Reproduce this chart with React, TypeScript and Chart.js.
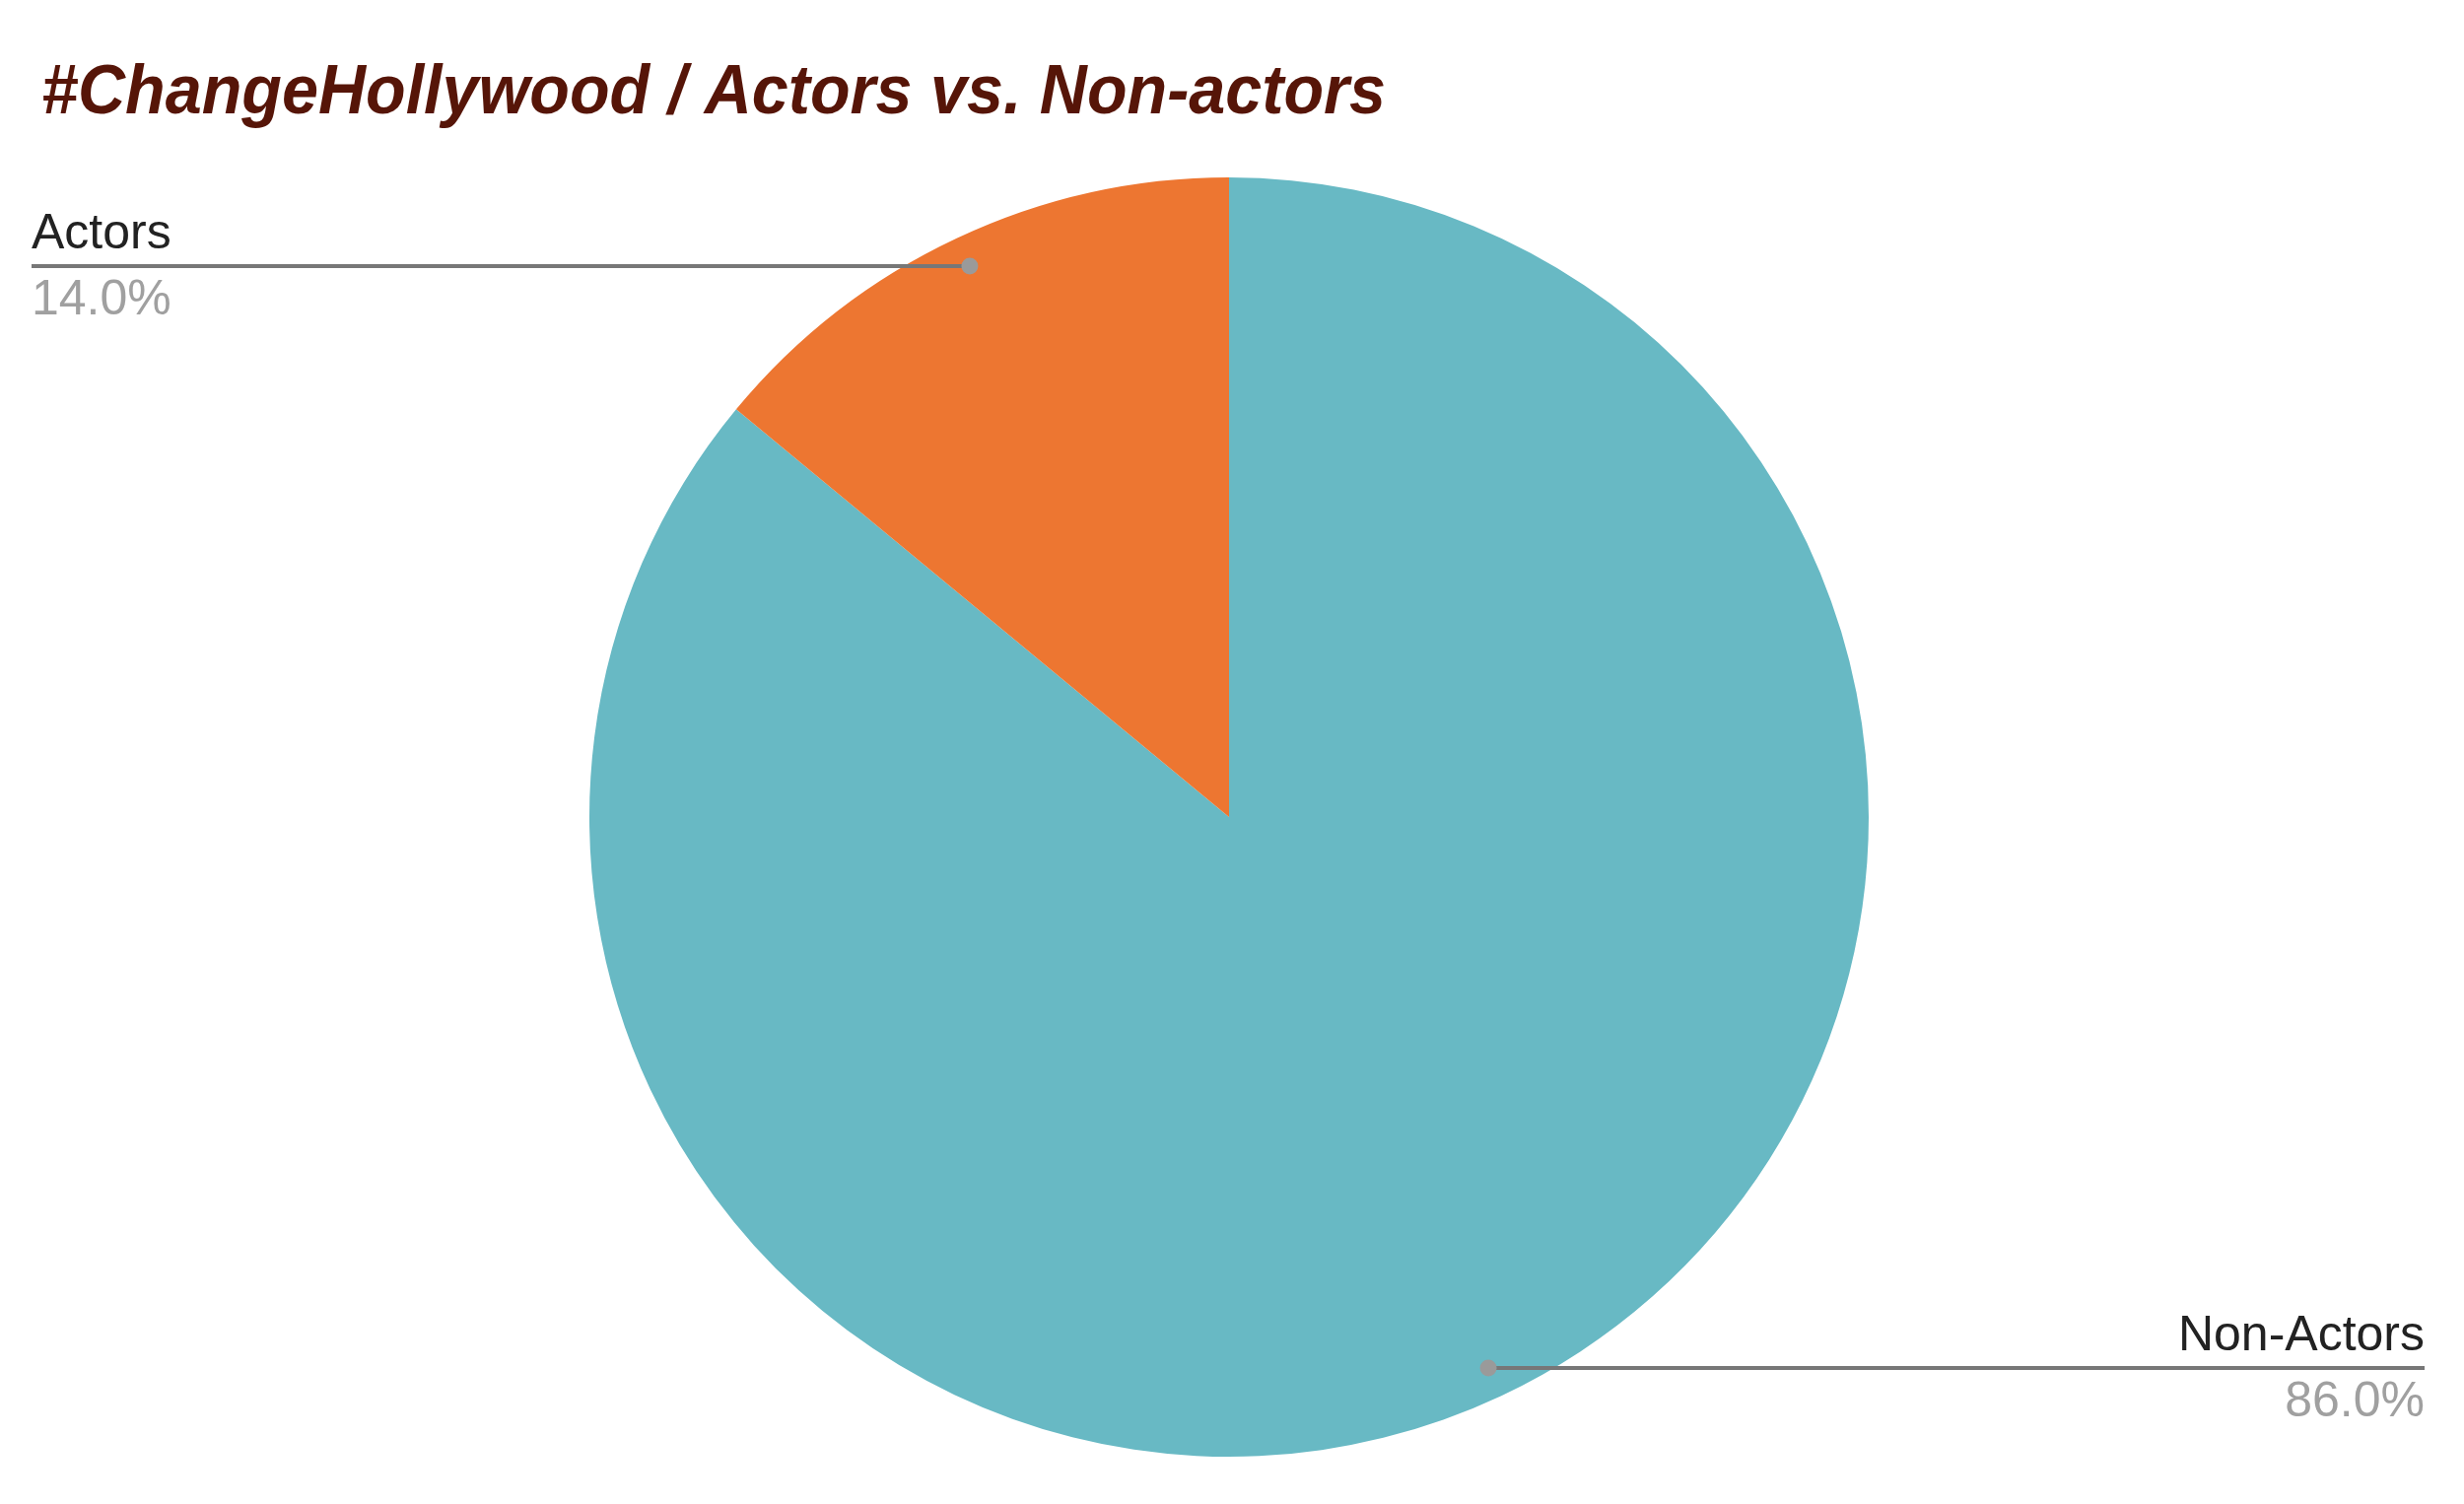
import React, { useEffect, useRef } from "react";
import { Chart, registerables } from "chart.js";

Chart.register(...registerables);

const TITLE = "#ChangeHollywood / Actors vs. Non-actors";
const categories = ["Non-Actors", "Actors"];
const values = [86, 14];
const colors = ["#68B9C4", "#ED7631"];

const W = 2500;
const H = 1526;

const overlayPlugin = {
  id: "overlay",
  afterDraw(chart: any) {
    const ctx = chart.ctx as CanvasRenderingContext2D;
    // Title
    ctx.save();
    ctx.fillStyle = "#561508";
    ctx.font = "italic bold 70px 'Liberation Sans', Arial, sans-serif";
    ctx.textBaseline = "alphabetic";
    const tw = ctx.measureText(TITLE).width;
    const target = 1364;
    ctx.translate(42, 115);
    ctx.scale(target / tw, 1);
    ctx.fillText(TITLE, 0, 0);
    ctx.restore();

    const meta = chart.getDatasetMeta(0);
    const data = chart.data.datasets[0].data as number[];
    const total = data.reduce((a, b) => a + b, 0);
    meta.data.forEach((arc: any, i: number) => {
      const p = arc.getProps(["startAngle", "endAngle", "outerRadius", "x", "y"], true);
      const mid = (p.startAngle + p.endAngle) / 2;
      const dx = Math.cos(mid) * p.outerRadius * 0.952;
      const dy = Math.sin(mid) * p.outerRadius * 0.952;
      const px = p.x + dx;
      const py = p.y + dy;
      const left = Math.cos(mid) < 0;
      const endX = left ? 32 : 2460;
      ctx.save();
      ctx.strokeStyle = "#777777";
      ctx.lineWidth = 4;
      ctx.beginPath();
      ctx.moveTo(px, py);
      ctx.lineTo(endX, py);
      ctx.stroke();
      ctx.fillStyle = "#9a9a9a";
      ctx.beginPath();
      ctx.arc(px, py, 8.5, 0, Math.PI * 2);
      ctx.fill();
      ctx.textAlign = left ? "left" : "right";
      ctx.textBaseline = "alphabetic";
      ctx.font = "50px 'Liberation Sans', Arial, sans-serif";
      ctx.fillStyle = "#222222";
      ctx.fillText(String(chart.data.labels[i]), endX, py - 18);
      ctx.fillStyle = "#a0a0a0";
      const pct = ((data[i] / total) * 100).toFixed(1) + "%";
      ctx.fillText(pct, endX, py + 49);
      ctx.restore();
    });
  },
};

export default function App() {
  const ref = useRef<HTMLCanvasElement | null>(null);
  useEffect(() => {
    if (!ref.current) return;
    const chart = new Chart(ref.current, {
      type: "pie",
      data: {
        labels: categories,
        datasets: [
          {
            data: values,
            backgroundColor: colors,
            borderWidth: 0,
          },
        ],
      },
      options: {
        responsive: false,
        animation: false,
        layout: { padding: { top: 180, bottom: 48, left: 598, right: 604 } },
        plugins: {
          legend: { display: false },
          tooltip: { enabled: false },
          title: { display: false },
        },
      },
      plugins: [overlayPlugin],
    });
    return () => chart.destroy();
  }, []);
  return (
    <div style={{ position: "absolute", left: 0, top: 0, width: W, height: H, background: "#fff" }}>
      <canvas ref={ref} width={W} height={H} style={{ width: W, height: H, display: "block" }} />
    </div>
  );
}
